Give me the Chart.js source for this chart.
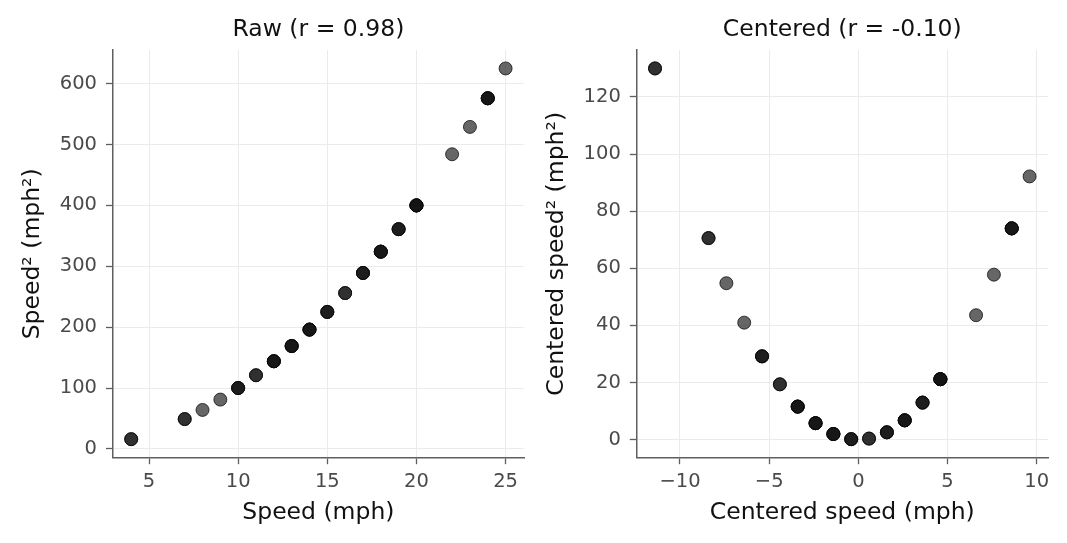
<!DOCTYPE html>
<html>
<head>
<meta charset="utf-8">
<script src="https://cdn.jsdelivr.net/npm/chart.js@4/dist/chart.umd.min.js"></script>
<style>
  html, body { margin: 0; padding: 0; background: #fff; }
  #wrap { position: relative; width: 1067px; height: 543px; overflow: hidden; }
  canvas { position: absolute; top: 0; }
  #raw { left: 0; }
  #centered { left: 524px; }
</style>
</head>
<body>
<div id="wrap">
  <canvas id="raw" width="534" height="543"></canvas>
  <canvas id="centered" width="543" height="543"></canvas>
</div>
<script>
// speed of each car (mph) and its square
const speed = [4, 4, 7, 7, 8, 9, 10, 10, 10, 11, 11, 12, 12, 12, 12, 13, 13, 13, 13,
  14, 14, 14, 14, 15, 15, 15, 16, 16, 17, 17, 17, 18, 18, 18, 18, 19, 19, 19,
  20, 20, 20, 20, 20, 22, 23, 24, 24, 24, 24, 25];
const speedSq = [16, 16, 49, 49, 64, 81, 100, 100, 100, 121, 121, 144, 144, 144, 144,
  169, 169, 169, 169, 196, 196, 196, 196, 225, 225, 225, 256, 256, 289, 289, 289,
  324, 324, 324, 324, 361, 361, 361, 400, 400, 400, 400, 400, 484, 529, 576, 576, 576, 576, 625];

// centered speed (speed - 15.4) and its square, right panel
const centered = [-11.4, -11.4, -8.4, -8.4, -7.4, -6.4, -5.4, -5.4, -5.4, -4.4, -4.4,
  -3.4, -3.4, -3.4, -3.4, -2.4, -2.4, -2.4, -2.4, -1.4, -1.4, -1.4, -1.4,
  -0.4, -0.4, -0.4, 0.6, 0.6, 1.6, 1.6, 1.6, 2.6, 2.6, 2.6, 2.6, 3.6, 3.6, 3.6,
  4.6, 4.6, 4.6, 4.6, 4.6, 6.6, 7.6, 8.6, 8.6, 8.6, 8.6, 9.6];
const centeredSq = [129.96, 129.96, 70.56, 70.56, 54.76, 40.96, 29.16, 29.16, 29.16, 19.36, 19.36,
  11.56, 11.56, 11.56, 11.56, 5.76, 5.76, 5.76, 5.76, 1.96, 1.96, 1.96, 1.96,
  0.16, 0.16, 0.16, 0.36, 0.36, 2.56, 2.56, 2.56, 6.76, 6.76, 6.76, 6.76, 12.96, 12.96, 12.96,
  21.16, 21.16, 21.16, 21.16, 21.16, 43.56, 57.76, 73.96, 73.96, 73.96, 73.96, 92.16];

const rawXTicks = [5, 10, 15, 20, 25];
const rawYTicks = [0, 100, 200, 300, 400, 500, 600];
const cenXTicks = [-10, -5, 0, 5, 10];
const cenYTicks = [0, 20, 40, 60, 80, 100, 120];

const FONT = 'DejaVu Sans';
const SPINE = '#5f5f5f';

function fmt(v) {
  return v < 0 ? '\u2212' + Math.abs(v) : String(v);
}

function axis(opts) {
  const horiz = opts.position === 'bottom';
  return {
    type: 'linear',
    position: opts.position,
    min: opts.min,
    max: opts.max,
    afterBuildTicks: s => { s.ticks = opts.ticks.map(v => ({ value: v })); },
    afterFit: s => {
      if (horiz) s.height = 85.3; else s.width = opts.width;
    },
    grid: { color: '#ebebeb', lineWidth: 1, tickColor: SPINE, tickLength: 6.5, tickWidth: 1.3 },
    border: { color: SPINE, width: 1.5 },
    ticks: {
      color: '#4a4a4a',
      padding: horiz ? 6 : 9,
      font: { family: FONT, size: 19.5 },
      autoSkip: false,
      maxRotation: 0,
      callback: v => fmt(v)
    },
    title: {
      display: true,
      text: opts.label,
      color: '#111',
      font: { family: FONT, size: 23.5 },
      padding: horiz ? { top: 0, bottom: 16 } : { top: 19, bottom: 0 }
    }
  };
}

function makeChart(id, title, xs, ys, x, y, padRight) {
  const points = xs.map((v, i) => ({ x: v, y: ys[i] }));
  return new Chart(document.getElementById(id), {
    type: 'scatter',
    data: {
      datasets: [{
        data: points,
        pointRadius: 6.5,
        pointHoverRadius: 6.5,
        backgroundColor: 'rgba(20,20,20,0.65)',
        borderColor: 'rgba(10,10,10,0.75)',
        borderWidth: 1,
        clip: false
      }]
    },
    options: {
      responsive: false,
      animation: false,
      layout: { padding: { left: 0, right: padRight, top: 0, bottom: 0 } },
      plugins: {
        legend: { display: false },
        tooltip: { enabled: false },
        title: {
          display: true,
          text: title,
          fullSize: false,
          color: '#111',
          font: { family: FONT, size: 23.5, weight: 'normal' },
          padding: { top: 16.2, bottom: 5.5 }
        }
      },
      scales: { x: x, y: y }
    }
  });
}

makeChart('raw', 'Raw (r = 0.98)', speed, speedSq,
  axis({ position: 'bottom', min: 2.95, max: 26.05, ticks: rawXTicks, label: 'Speed (mph)' }),
  axis({ position: 'left', min: -14.45, max: 655.45, ticks: rawYTicks, label: 'Speed\u00b2 (mph\u00b2)', width: 112.5 }),
  9.7);

makeChart('centered', 'Centered (r = -0.10)', centered, centeredSq,
  axis({ position: 'bottom', min: -12.45, max: 10.65, ticks: cenXTicks, label: 'Centered speed (mph)' }),
  axis({ position: 'left', min: -6.33, max: 136.45, ticks: cenYTicks, label: 'Centered speed\u00b2 (mph\u00b2)', width: 112.3 }),
  18.7);
</script>
</body>
</html>
